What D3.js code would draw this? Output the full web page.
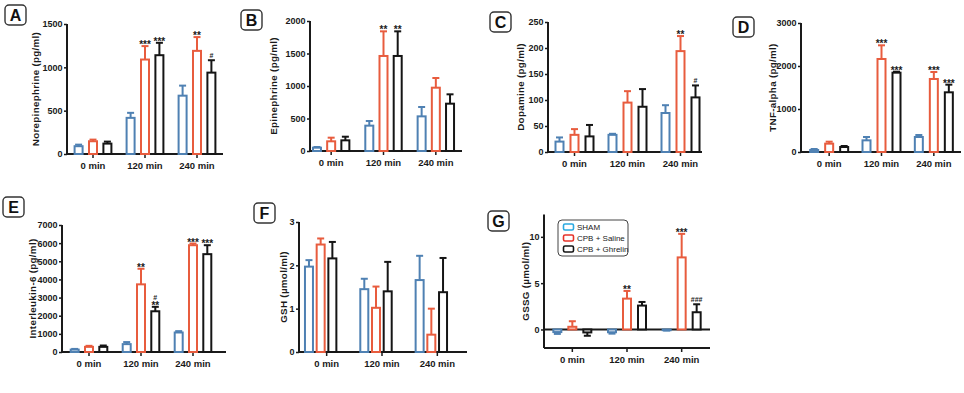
<!DOCTYPE html>
<html><head><meta charset="utf-8">
<script src="https://cdn.jsdelivr.net/npm/d3@7"></script>
<style>
html,body{margin:0;padding:0;background:#fff;}
svg{display:block;}
text{font-family:"Liberation Sans",Arial,sans-serif;}
</style></head>
<body><svg id="chart" width="964" height="393"></svg>
<script>
// ---------------- DATA ----------------
const groups = ["0 min", "120 min", "240 min"];
const seriesNames = ["SHAM", "CPB + Saline", "CPB + Ghrelin"];

// rows = series (SHAM, CPB+Saline, CPB+Ghrelin), columns = groups
const neMean = [[90, 417, 673], [147, 1090, 1190], [120, 1140, 939]];
const neSem  = [[18, 58, 116], [19, 155, 159], [23, 143, 143]];
const neMarks = [["", "", ""], ["", "***", "**"], ["", "***", "#"]];
const neTicks = [0, 500, 1000, 1500];

const epiMean = [[51, 390, 533], [149, 1462, 974], [164, 1462, 728]];
const epiSem  = [[11, 72, 144], [56, 379, 149], [56, 379, 144]];
const epiMarks = [["", "", ""], ["", "**", ""], ["", "**", ""]];
const epiTicks = [0, 500, 1000, 1500, 2000];

const daMean = [[20, 33, 75], [33, 95, 194], [30, 87, 105]];
const daSem  = [[8, 2, 15], [11, 22, 29], [22, 34, 23]];
const daMarks = [["", "", ""], ["", "", "**"], ["", "", "#"]];
const daTicks = [0, 50, 100, 150, 200, 250];

const tnfMean = [[47, 271, 349], [194, 2163, 1698], [116, 1845, 1388]];
const tnfSem  = [[23, 78, 46], [46, 318, 162], [24, 23, 178]];
const tnfMarks = [["", "", ""], ["", "***", "***"], ["", "***", "***"]];
const tnfTicks = [0, 1000, 2000, 3000];

const il6Mean = [[132, 434, 1075], [283, 3729, 5886], [283, 2245, 5393]];
const il6Sem  = [[38, 113, 75], [57, 859, 92], [75, 245, 494]];
const il6Marks = [["", "", ""], ["", "**", "***"], ["", "**|#", "***"]];
const il6Ticks = [0, 1000, 2000, 3000, 4000, 5000, 6000, 7000];

const gshMean = [[1.97, 1.45, 1.66], [2.48, 1.02, 0.40], [2.16, 1.40, 1.38]];
const gshSem  = [[0.15, 0.24, 0.56], [0.14, 0.49, 0.60], [0.38, 0.68, 0.79]];
const gshMarks = [["", "", ""], ["", "", ""], ["", "", ""]];
const gshTicks = [0, 1, 2, 3];

const gssgMean = [[-0.28, -0.3, -0.08], [0.29, 3.33, 7.78], [-0.32, 2.58, 1.86]];
const gssgSem  = [[0.2, 0.15, 0.04], [0.6, 0.83, 2.54], [0.36, 0.39, 0.86]];
const gssgMarks = [["", "", ""], ["", "**", "***"], ["", "", "###"]];
const gssgTicks = [0, 5, 10];
const gssgExtent = [-2, 12.4];

// ---------------- STYLE / LAYOUT ----------------
const barColors = ["#4f81b3", "#e85c3e", "#151515"];
const legendColors = ["#2aa9e0", "#e6332a", "#151515"];

const panels = [
  {label: "A", title: "Norepinephrine (pg/ml)", mean: neMean, sem: neSem, marks: neMarks, ticks: neTicks,
   box: [4, 4], axisX: [67, 223], band: [67, 223], yRange: [154, 24], titleX: 35, shift: 0, pitch: 14.4},
  {label: "B", title: "Epinephrine (pg/ml)", mean: epiMean, sem: epiSem, marks: epiMarks, ticks: epiTicks,
   box: [240, 9], axisX: [310, 462], band: [305, 462], yRange: [151, 21], titleX: 273, shift: 0, pitch: 14.2},
  {label: "C", title: "Dopamine (pg/ml)", mean: daMean, sem: daSem, marks: daMarks, ticks: daTicks,
   box: [489, 11], axisX: [548, 702], band: [548, 707], yRange: [152, 22], titleX: 520, shift: 0, pitch: 15},
  {label: "D", title: "TNF-alpha (pg/ml)", mean: tnfMean, sem: tnfSem, marks: tnfMarks, ticks: tnfTicks,
   box: [732, 16], axisX: [801, 961], band: [803, 960], yRange: [152, 23], titleX: 772, shift: 0, pitch: 15},
  {label: "E", title: "Interleukin-6 (pg/ml)", mean: il6Mean, sem: il6Sem, marks: il6Marks, ticks: il6Ticks,
   box: [2, 196], axisX: [62, 226], band: [63, 219], yRange: [352, 225], titleX: 32, shift: 0, pitch: 14.3},
  {label: "F", title: "GSH (\u00b5mol/ml)", mean: gshMean, sem: gshSem, marks: gshMarks, ticks: gshTicks,
   box: [253, 202], axisX: [299, 467], band: [299, 465], yRange: [352, 222], titleX: 283, shift: -6, pitch: 11.7},
  {label: "G", title: "GSSG (\u00b5mol/ml)", mean: gssgMean, sem: gssgSem, marks: gssgMarks, ticks: gssgTicks,
   extent: gssgExtent, box: [487, 210], axisX: [544, 710], band: [545, 709], yRange: [348, 214.6], titleX: 525, shift: 0, pitch: 15, legend: true}
];

const svg = d3.select("#chart");
svg.append("rect").attr("width", 964).attr("height", 393).attr("fill", "#ffffff");

panels.forEach(p => {
  const g = svg.append("g");
  const dom = p.extent ? p.extent : [0, p.ticks[p.ticks.length - 1]];
  const y = d3.scaleLinear().domain(dom).range(p.yRange);
  const x = d3.scaleBand().domain(groups).range(p.band).padding(0);
  const cx = gr => x(gr) + x.bandwidth() / 2 + p.shift;
  const tickX = gr => x(gr) + x.bandwidth() / 2;

  // panel label box
  g.append("rect").attr("x", p.box[0] + 1).attr("y", p.box[1] + 1).attr("width", 21).attr("height", 20)
    .attr("rx", 4).attr("fill", "#fff").attr("stroke", "#333").attr("stroke-width", 1.4);
  g.append("text").attr("x", p.box[0] + 11.5).attr("y", p.box[1] + 17).attr("text-anchor", "middle")
    .attr("font-size", 16).attr("font-weight", "bold").attr("fill", "#111").text(p.label);

  // y axis
  const ya = g.append("g").attr("transform", `translate(${p.axisX[0]},0)`)
    .call(d3.axisLeft(y).tickValues(p.ticks).tickSize(3).tickPadding(1.5).tickFormat(d3.format("d")));
  ya.select(".domain").attr("stroke", "#1a1a1a").attr("stroke-width", 2).attr("d", `M0,${p.yRange[0]}V${p.yRange[1]}`);
  ya.selectAll(".tick line").attr("stroke", "#1a1a1a").attr("stroke-width", 1.5);
  ya.selectAll(".tick text").attr("font-size", 9).attr("font-weight", "bold").attr("fill", "#1a1a1a")
    .attr("font-family", "'Liberation Sans', Arial, sans-serif");

  // y title
  const ym = (p.yRange[0] + p.yRange[1]) / 2;
  g.append("text").attr("transform", `translate(${p.titleX},${ym}) rotate(-90)`).attr("text-anchor", "middle")
    .attr("dominant-baseline", "central").attr("font-size", 9.8).attr("font-weight", "bold")
    .attr("letter-spacing", 0.3).attr("fill", "#1a1a1a").text(p.title);

  // x axis
  const baseY = y(dom[0]);
  g.append("line").attr("x1", p.axisX[0]).attr("x2", p.axisX[1]).attr("y1", baseY).attr("y2", baseY)
    .attr("stroke", "#1a1a1a").attr("stroke-width", 2);
  if (dom[0] < 0) {
    g.append("line").attr("x1", p.axisX[0]).attr("x2", p.axisX[1]).attr("y1", y(0)).attr("y2", y(0))
      .attr("stroke", "#1a1a1a").attr("stroke-width", 2);
  }
  groups.forEach(gr => {
    g.append("line").attr("x1", tickX(gr)).attr("x2", tickX(gr)).attr("y1", baseY).attr("y2", baseY + 4)
      .attr("stroke", "#1a1a1a").attr("stroke-width", 1.5);
    g.append("text").attr("x", tickX(gr)).attr("y", baseY + 15).attr("text-anchor", "middle")
      .attr("font-size", 9.5).attr("font-weight", "bold").attr("fill", "#1a1a1a").text(gr);
  });

  // bars
  seriesNames.forEach((s, si) => {
    groups.forEach((gr, gi) => {
      const v = p.mean[si][gi], e = p.sem[si][gi];
      const bx = cx(gr) + (si - 1) * p.pitch;
      const col = barColors[si];
      const y0 = y(0), yv = y(v);
      g.append("rect").attr("x", bx - 4).attr("width", 8)
        .attr("y", Math.min(y0, yv)).attr("height", Math.abs(y0 - yv))
        .attr("fill", "#fff").attr("stroke", col).attr("stroke-width", 2);
      const ye = v >= 0 ? y(v + e) : y(v - e);
      g.append("line").attr("x1", bx).attr("x2", bx).attr("y1", yv).attr("y2", ye)
        .attr("stroke", col).attr("stroke-width", 2);
      g.append("line").attr("x1", bx - 3.5).attr("x2", bx + 3.5).attr("y1", ye).attr("y2", ye)
        .attr("stroke", col).attr("stroke-width", 2);
      const m = p.marks[si][gi];
      if (m) {
        let cur = ye;
        m.split("|").forEach(line => {
          if (line.indexOf("*") >= 0) {
            const b = cur + 2;
            g.append("text").attr("x", bx).attr("y", b).attr("text-anchor", "middle")
              .attr("font-size", 10).attr("font-weight", "bold").attr("fill", "#1a1a1a").text(line);
            cur = b - 7;
          } else {
            const b = cur - 2;
            g.append("text").attr("x", bx).attr("y", b).attr("text-anchor", "middle")
              .attr("font-size", 7).attr("font-weight", "bold").attr("fill", "#1a1a1a").text(line);
            cur = b - 6;
          }
        });
      }
    });
  });

  if (p.legend) {
    const lg = g.append("g").attr("transform", "translate(558,220)");
    lg.append("rect").attr("width", 70).attr("height", 36).attr("rx", 4)
      .attr("fill", "#fff").attr("stroke", "#444").attr("stroke-width", 1);
    seriesNames.forEach((s, i) => {
      lg.append("rect").attr("x", 5.5).attr("y", 4 + i * 11).attr("width", 10).attr("height", 6).attr("rx", 1.5)
        .attr("fill", "#fff").attr("stroke", legendColors[i]).attr("stroke-width", 1.6);
      lg.append("text").attr("x", 19).attr("y", 10 + i * 11).attr("font-size", 8).attr("fill", "#1a1a1a").text(s);
    });
  }
});
</script></body></html>
